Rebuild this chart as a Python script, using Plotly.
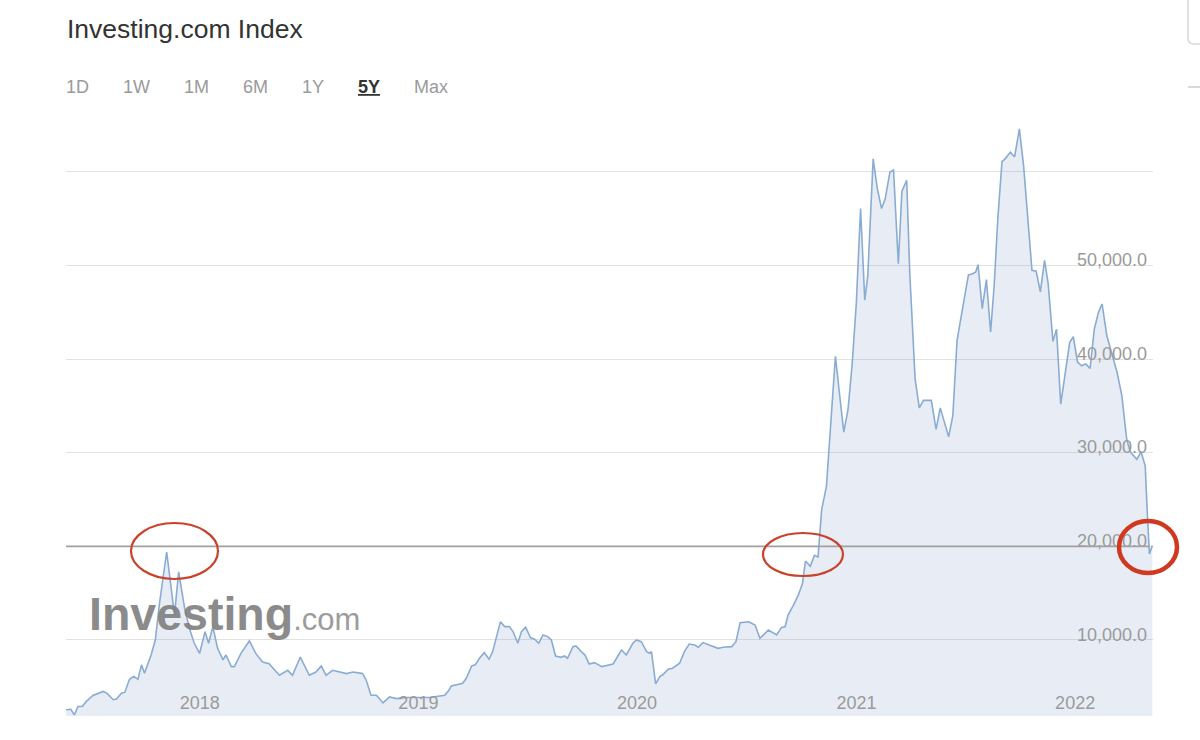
import plotly.graph_objects as go

dates = [
    "2017-07-02","2017-07-10","2017-07-16","2017-07-22","2017-07-29","2017-08-05","2017-08-16","2017-08-25",
    "2017-09-02","2017-09-08","2017-09-19","2017-09-24","2017-10-03","2017-10-08","2017-10-16","2017-10-23",
    "2017-10-30","2017-11-05","2017-11-10","2017-11-21","2017-11-28","2017-12-05","2017-12-17","2017-12-25",
    "2017-12-30",
    "2018-01-06","2018-01-16","2018-01-24","2018-02-01","2018-02-10","2018-02-19","2018-02-25","2018-03-04",
    "2018-03-12","2018-03-21","2018-03-26","2018-04-04","2018-04-09","2018-04-20","2018-05-04","2018-05-15",
    "2018-05-26","2018-06-06","2018-06-23","2018-07-07","2018-07-15","2018-07-28","2018-08-12","2018-08-23",
    "2018-09-01","2018-09-09","2018-09-20","2018-10-13","2018-10-24","2018-11-09","2018-11-15","2018-11-23",
    "2018-12-02","2018-12-13","2018-12-24",
    "2019-01-04","2019-01-21","2019-02-07","2019-03-01","2019-03-26","2019-04-02","2019-04-06","2019-04-17",
    "2019-04-25","2019-05-01","2019-05-10","2019-05-16","2019-05-23","2019-05-31","2019-06-08","2019-06-14",
    "2019-06-20","2019-06-27","2019-07-04","2019-07-12","2019-07-18","2019-07-26","2019-08-01","2019-08-08",
    "2019-08-16","2019-08-23","2019-08-30","2019-09-06","2019-09-14","2019-09-20","2019-09-27","2019-10-06",
    "2019-10-12","2019-10-17","2019-10-26","2019-10-31","2019-11-09","2019-11-15","2019-11-22","2019-12-01",
    "2019-12-13","2019-12-23",
    "2020-01-01","2020-01-15","2020-01-23","2020-02-03","2020-02-09","2020-02-17","2020-02-26","2020-03-02",
    "2020-03-05","2020-03-12","2020-03-19","2020-03-24","2020-04-02","2020-04-09","2020-04-21","2020-04-29",
    "2020-05-07","2020-05-16","2020-05-22","2020-05-30","2020-06-10","2020-06-24","2020-07-03","2020-07-17",
    "2020-07-24","2020-07-31","2020-08-14","2020-08-25","2020-09-02","2020-09-16","2020-09-30","2020-10-08",
    "2020-10-14","2020-10-19","2020-10-28","2020-11-05","2020-11-12","2020-11-17","2020-11-25","2020-12-02",
    "2020-12-08","2020-12-14","2020-12-22","2020-12-28",
    "2021-01-06","2021-01-13","2021-01-20","2021-01-27","2021-02-03","2021-02-10","2021-02-17","2021-02-24",
    "2021-03-01","2021-03-10","2021-03-17","2021-03-24","2021-03-30","2021-04-07","2021-04-13","2021-04-21",
    "2021-04-27","2021-05-05","2021-05-10","2021-05-19","2021-05-26","2021-06-02","2021-06-15","2021-06-23",
    "2021-06-30","2021-07-14","2021-07-21","2021-07-28","2021-08-05","2021-08-11","2021-08-16","2021-08-22",
    "2021-08-28","2021-09-01","2021-09-08","2021-09-15","2021-09-22","2021-09-28","2021-10-04","2021-10-11",
    "2021-10-16","2021-10-25","2021-11-01","2021-11-09","2021-11-16","2021-11-23","2021-11-30","2021-12-07",
    "2021-12-14","2021-12-21","2021-12-27",
    "2022-01-04","2022-01-10","2022-01-17","2022-01-24","2022-02-01","2022-02-07","2022-02-14","2022-02-21",
    "2022-02-28","2022-03-07","2022-03-14","2022-03-21","2022-03-27","2022-04-04","2022-04-12","2022-04-21",
    "2022-04-29","2022-05-07","2022-05-13","2022-05-24","2022-05-31","2022-06-07","2022-06-11","2022-06-14",
    "2022-06-19",
]

values = [
    2550, 2600, 2000, 2900, 2900, 3440, 4080, 4330, 4500, 4330, 3620, 3690, 4330, 4400, 5800, 6100,
    5800, 7340, 6450, 8400, 10000, 13900, 19400, 15300, 12650,
    17270, 13370, 11240, 9650, 8580, 10890, 9650, 11420, 9110, 7870, 8400, 7160, 7160, 8580, 9900, 8540,
    7650, 7470, 6230, 6760, 6230, 8180, 6230, 6580, 7220, 6230, 6760, 6410, 6580, 6410, 5700, 4100,
    4100, 3280, 3920,
    3740, 3850, 3850, 3850, 4100, 4630, 5090, 5300, 5380, 5910, 7230, 7340, 8050, 8650, 7940, 8760,
    10180, 11960, 11430, 11430, 10900, 9650, 10900, 11360, 10260, 10080, 9650, 10540, 10360, 10000, 8290, 8150,
    8290, 8050, 9290, 9360, 8760, 8400, 7440, 7580, 7160, 7300,
    7440, 8930, 8400, 9650, 10000, 9820, 8760, 8580, 8760, 5320, 6100, 6280, 6880, 6990, 7520, 8760,
    9570, 9470, 9220, 9720, 9470, 9110, 9220, 9290, 9820, 11840, 11950, 11600, 10180, 11060, 10530, 11350,
    11420, 12660, 13720, 14790, 16030, 18440, 17870, 19040, 18870, 23900, 26400, 32100,
    40300, 36200, 32200, 34600, 39500, 46100, 56100, 46300, 48900, 61400, 58200, 56100, 57100, 60000, 60200, 50200,
    57950, 59100, 49300, 37900, 34800, 35600, 35600, 32500, 34800, 31700, 34000, 42000, 45200, 47200, 49000, 49100,
    49300, 50100, 45400, 48500, 42900, 47900, 55000, 61100, 61400, 62100, 61600, 64600, 60700, 55000, 49500, 49400,
    47200, 50550, 48100,
    41900, 43200, 35200, 38300, 41800, 42400, 39700, 39300, 39500, 39000, 43200, 45000, 45900, 42500, 40700, 38600,
    36100, 31500, 30100, 29300, 30100, 28600, 22900, 19200, 20100,
]

year_ticks = ["2018-01-01", "2019-01-01", "2020-01-01", "2021-01-01", "2022-01-01"]
year_labels = ["2018", "2019", "2020", "2021", "2022"]
price_ticks = [10000, 20000, 30000, 40000, 50000, 60000]
price_labels = ["10,000.0", "20,000.0", "30,000.0", "40,000.0", "50,000.0", ""]
buttons = ["1D", "1W", "1M", "6M", "1Y", "5Y", "Max"]

W, H = 1200, 740
PL, PR, PT, PB = 66, 1153, 110, 716


def fx(px):
    return (px - PL) / (PR - PL)


def fy(py):
    return (PB - py) / (PB - PT)


FONT = "Arial, Liberation Sans, Helvetica, sans-serif"

fig = go.Figure()
fig.add_trace(go.Scatter(
    x=dates, y=values, mode="lines",
    line=dict(color="rgb(138,172,210)", width=1.6),
    fill="tozeroy", fillcolor="rgba(140,165,205,0.2)",
    hoverinfo="skip", showlegend=False,
))

annotations = [
    dict(text="Investing.com Index", x=fx(65), y=fy(29), xref="paper", yref="paper",
         xanchor="left", yanchor="middle", showarrow=False,
         font=dict(size=26.5, color="#333333", family=FONT)),
]
btn_centers = [77, 136.5, 196.5, 255, 312.5, 368.5, 430.5]
for b, cx in zip(buttons, btn_centers):
    if b == "5Y":
        txt, col = "<b><u>5Y</u></b>", "#333333"
    else:
        txt, col = b, "#9a9a9a"
    annotations.append(dict(text=txt, x=fx(cx), y=fy(87), xref="paper", yref="paper",
                            xanchor="center", yanchor="middle", showarrow=False,
                            font=dict(size=18, color=col, family=FONT)))

annotations.append(dict(
    text="<b>Investing</b><span style='font-size:31px;color:#929292'>.com</span>",
    x=fx(87), y=fy(614), xref="paper", yref="paper", xanchor="left", yanchor="middle",
    showarrow=False, opacity=0.9,
    font=dict(size=46.5, color="#7f7f7f", family=FONT)))

shapes = [
    dict(type="line", xref="paper", yref="y", x0=0, x1=0.997, y0=20000, y1=20000,
         line=dict(color="#a0a0a0", width=1.6)),
    dict(type="circle", xref="paper", yref="paper", x0=fx(131), x1=fx(218), y0=fy(579), y1=fy(523),
         line=dict(color="#c9432b", width=2.2)),
    dict(type="circle", xref="paper", yref="paper", x0=fx(763), x1=fx(843), y0=fy(576), y1=fy(533),
         line=dict(color="#c9432b", width=2.2)),
    dict(type="circle", xref="paper", yref="paper", x0=fx(1119), x1=fx(1177), y0=fy(573), y1=fy(521),
         line=dict(color="#d0391f", width=4.5)),
    dict(type="path", xref="paper", yref="paper",
         path=f"M {fx(1188)} {fy(-2)} L {fx(1188)} {fy(38)} Q {fx(1188)} {fy(44)} {fx(1194)} {fy(44)} L {fx(1202)} {fy(44)}",
         line=dict(color="#d8d8d8", width=1.5)),
    dict(type="line", xref="paper", yref="paper", x0=fx(1188), x1=fx(1202), y0=fy(87), y1=fy(87),
         line=dict(color="#d8d8d8", width=2)),
]

fig.update_layout(
    width=W, height=H,
    margin=dict(l=PL, r=W - PR, t=PT, b=H - PB),
    paper_bgcolor="white", plot_bgcolor="white",
    font=dict(family=FONT),
    annotations=annotations, shapes=shapes,
    showlegend=False,
    xaxis=dict(
        type="date", range=["2017-07-02", "2022-06-20"],
        tickvals=year_ticks, ticktext=year_labels,
        ticklabelposition="inside", ticklabelshift=24,
        tickfont=dict(size=18, color="#9a9a9a", family=FONT),
        showgrid=False, zeroline=False, showline=False, ticks="",
    ),
    yaxis=dict(
        side="right", range=[1880, 66620],
        tickvals=price_ticks, ticktext=price_labels,
        ticklabelposition="inside top", ticklabelshift=7, ticklabelstandoff=3,
        tickfont=dict(size=18, color="#9a9a9a", family=FONT),
        gridcolor="#e2e2e2", gridwidth=1,
        zeroline=False, showline=False, ticks="",
    ),
)

fig.write_html(
    "out.html",
    config={"displayModeBar": False},
    post_script="document.body.style.margin='0';document.body.style.padding='0';",
)
